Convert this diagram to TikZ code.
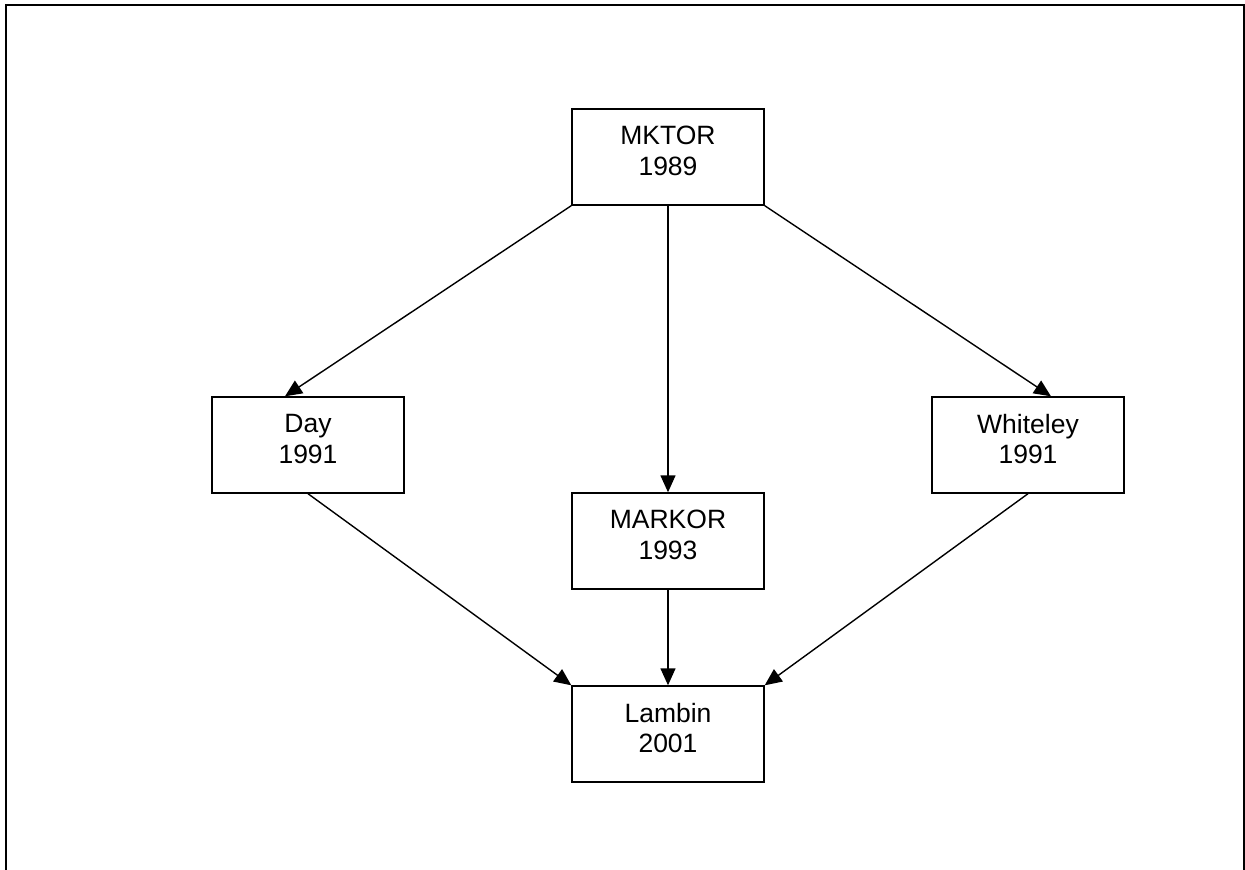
\documentclass[tikz,border=0pt]{standalone}
\usepackage{fontspec}
\setmainfont{Liberation Sans}
\usetikzlibrary{arrows.meta}
\begin{document}
\begin{tikzpicture}[x=1pt,y=-1pt,
  box/.style={draw=black,line width=1.4pt,minimum width=192pt,minimum height=96pt,inner sep=0pt,fill=white},
  lbl/.style={align=center,inner sep=0pt,font=\fontsize{26.5}{30.7}\selectfont},
  conn/.style={draw=black,line width=1.4pt,-{Triangle[length=17pt,width=15pt]}}]
\useasboundingbox (0,0) rectangle (1245,870);
\fill[white] (0,0) rectangle (1245,870);
\draw[line width=2pt] (6,870) -- (6,5) -- (1243.5,5) -- (1243.5,870);
% boxes
\node[box] (mktor) at (668,157) {};
\node[box] (day) at (308,445) {};
\node[box] (whiteley) at (1028,445) {};
\node[box] (markor) at (668,541) {};
\node[box] (lambin) at (668,734) {};
% texts
\node[lbl] (mktor-t) at ([yshift=6pt]mktor.center) {MKTOR\\1989};
\node[lbl] (day-t) at ([yshift=6pt]day.center) {Day\\1991};
\node[lbl] (whiteley-t) at ([yshift=6pt]whiteley.center) {Whiteley\\1991};
\node[lbl] (markor-t) at ([yshift=6pt]markor.center) {MARKOR\\1993};
\node[lbl] (lambin-t) at ([yshift=6pt]lambin.center) {Lambin\\2001};
% connectors
\draw[conn] (mktor.south west) -- ([xshift=-23pt]day.north);
\draw[conn] (mktor.south) -- (markor.north);
\draw[conn] (mktor.south east) -- ([xshift=23pt]whiteley.north);
\draw[conn] (day.south) -- (lambin.north west);
\draw[conn] (markor.south) -- (lambin.north);
\draw[conn] (whiteley.south) -- (lambin.north east);
\end{tikzpicture}
\end{document}
